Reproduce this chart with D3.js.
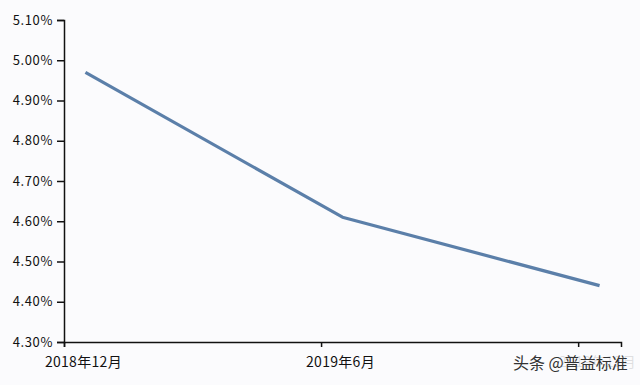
<!DOCTYPE html>
<html>
<head>
<meta charset="utf-8">
<script src="https://cdn.jsdelivr.net/npm/d3@7"></script>
<style>
  body { margin: 0; background: #fbfbfd; }
  svg { display: block; }
</style>
</head>
<body>
<script>
const width = 640;
const height = 385;

// data
const categories = ["2018年12月", "2019年6月", "2019年12月"];
const monthIndex = [0, 6, 12];       // months after 2018-12
const rates = [4.97, 4.61, 4.44];    // percent
const yTicks = [4.3, 4.4, 4.5, 4.6, 4.7, 4.8, 4.9, 5.0, 5.1];
const totalMonths = 13;

const margin = { left: 64, right: 19, top: 20, bottom: 43 };

const svg = d3.select("body").append("svg")
    .attr("width", width)
    .attr("height", height);

const x = d3.scaleLinear()
    .domain([0, totalMonths])
    .range([margin.left, width - margin.right]);

const y = d3.scaleLinear()
    .domain([4.3, 5.1])
    .range([height - margin.bottom, margin.top]);

const font = "'Noto Sans CJK SC', 'DejaVu Sans', sans-serif";

// y axis
const yAxis = svg.append("g")
    .attr("transform", `translate(${margin.left},0)`)
    .call(d3.axisLeft(y).tickValues(yTicks).tickSizeOuter(0).tickSize(7).tickPadding(4)
        .tickFormat(d => d3.format(".2f")(d) + "%"));

yAxis.selectAll("text")
    .attr("font-family", font)
    .attr("font-size", "13px")
    .attr("letter-spacing", "0.6px")
    .attr("fill", "#111");

// x axis: ticks at month starts, labels at month centres
const xAxis = svg.append("g")
    .attr("transform", `translate(0,${y(4.3)})`)
    .call(d3.axisBottom(x).tickValues(monthIndex).tickSizeOuter(0).tickSize(5).tickFormat(""));

svg.selectAll(".domain, .tick line")
    .attr("stroke", "#111")
    .attr("stroke-width", 1.5);

svg.append("g").selectAll("text")
    .data(categories)
    .join("text")
    .attr("x", (d, i) => x(monthIndex[i] + 0.5) - 2)
    .attr("y", y(4.3) + 25)
    .attr("text-anchor", "middle")
    .attr("font-family", font)
    .attr("font-size", "14px")
    .attr("letter-spacing", "0.3px")
    .attr("fill", "#111")
    .text(d => d);

// line
const line = d3.line()
    .x((d, i) => x(monthIndex[i] + 0.5))
    .y(d => y(d));

svg.append("path")
    .datum(rates)
    .attr("d", line)
    .attr("fill", "none")
    .attr("stroke", "#5b7fa9")
    .attr("stroke-width", 3.2)
    .attr("stroke-linejoin", "round");

// watermark sitting over the last label
svg.append("rect")
    .attr("x", 508)
    .attr("y", 351)
    .attr("width", 132)
    .attr("height", 24)
    .attr("fill", "#fbfbfd")
    .attr("opacity", 0.88);

svg.append("text")
    .attr("x", 513)
    .attr("y", 369)
    .attr("font-family", font)
    .attr("font-size", "16px")
    .attr("fill", "#333")
    .text("头条 @普益标准");
</script>
</body>
</html>
